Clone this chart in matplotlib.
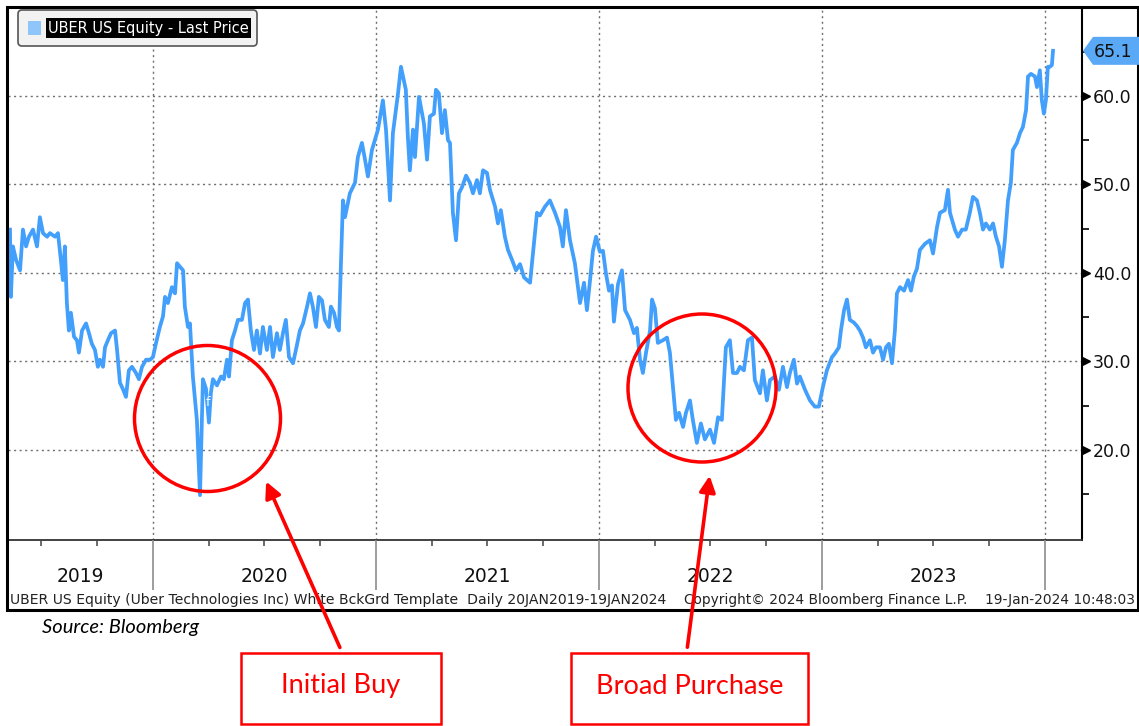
import numpy as np
import matplotlib
matplotlib.use("Agg")
import matplotlib.pyplot as plt
from matplotlib.patches import Circle, Rectangle, FancyBboxPatch, Polygon
from matplotlib.transforms import blended_transform_factory, offset_copy

# UBER US Equity - last price (time as decimal year)
t19 = [2019.359, 2019.363, 2019.372, 2019.386, 2019.404, 2019.417, 2019.431, 2019.444, 2019.462, 2019.480,
       2019.493, 2019.507, 2019.525, 2019.538, 2019.561, 2019.574, 2019.587, 2019.596, 2019.605, 2019.614,
       2019.623, 2019.632, 2019.646, 2019.659, 2019.668, 2019.682, 2019.700, 2019.713, 2019.726, 2019.740,
       2019.753, 2019.762, 2019.776, 2019.785, 2019.798, 2019.812, 2019.830, 2019.839, 2019.852, 2019.865,
       2019.879, 2019.892, 2019.906, 2019.924, 2019.937, 2019.951, 2019.969, 2019.987]
p19 = [44.9, 37.3, 43.0, 41.5, 40.3, 44.9, 43.0, 44.1, 44.9, 43.0,
       46.3, 44.5, 44.1, 44.5, 44.1, 44.5, 41.5, 39.2, 43.0, 36.6,
       33.5, 35.5, 32.8, 32.4, 31.0, 33.5, 34.3, 33.2, 32.0, 31.3,
       29.4, 30.2, 29.4, 31.6, 32.4, 33.2, 33.5, 31.3, 27.6, 26.9,
       26.0, 29.0, 29.4, 28.7, 28.0, 29.4, 30.2, 30.2]

t20 = [2020.000, 2020.013, 2020.031, 2020.045, 2020.054, 2020.067, 2020.085, 2020.099, 2020.108, 2020.121,
       2020.135, 2020.143, 2020.157, 2020.166, 2020.179, 2020.197, 2020.211, 2020.224, 2020.238, 2020.251,
       2020.260, 2020.269, 2020.287, 2020.305, 2020.318, 2020.332, 2020.341, 2020.354, 2020.368, 2020.381,
       2020.399, 2020.413, 2020.426, 2020.439, 2020.453, 2020.466, 2020.480, 2020.493, 2020.511, 2020.525,
       2020.538, 2020.556, 2020.569, 2020.583, 2020.596, 2020.610, 2020.628, 2020.641, 2020.659, 2020.673,
       2020.691, 2020.704, 2020.717, 2020.731, 2020.744, 2020.758, 2020.771, 2020.789, 2020.798, 2020.812,
       2020.825, 2020.834, 2020.843, 2020.852, 2020.861, 2020.883, 2020.906, 2020.919, 2020.937, 2020.951,
       2020.964, 2020.982]
p20 = [30.5, 32.0, 33.9, 35.1, 37.3, 36.6, 38.4, 37.7, 41.1, 40.7,
       40.3, 36.2, 33.9, 34.3, 28.3, 23.4, 14.9, 28.0, 26.9, 23.1,
       26.5, 28.0, 27.3, 28.3, 28.0, 30.2, 28.3, 32.4, 33.5, 34.7,
       34.7, 36.6, 37.0, 33.5, 31.3, 33.5, 30.9, 33.9, 31.3, 33.9,
       30.5, 33.2, 31.3, 33.2, 34.7, 30.5, 29.8, 31.3, 33.5, 34.3,
       36.2, 37.7, 36.2, 33.9, 37.3, 36.9, 34.7, 33.9, 36.2, 35.5,
       33.9, 33.5, 41.1, 48.2, 46.3, 49.0, 50.2, 53.1, 54.7, 52.8,
       50.9, 53.9]

t21 = [2021.009, 2021.031, 2021.045, 2021.063, 2021.076, 2021.099, 2021.112, 2021.134, 2021.143, 2021.152,
       2021.166, 2021.175, 2021.193, 2021.215, 2021.229, 2021.242, 2021.260, 2021.269, 2021.282, 2021.296,
       2021.309, 2021.323, 2021.332, 2021.345, 2021.359, 2021.372, 2021.386, 2021.404, 2021.421, 2021.435,
       2021.453, 2021.466, 2021.480, 2021.498, 2021.511, 2021.534, 2021.547, 2021.560, 2021.578, 2021.592,
       2021.610, 2021.628, 2021.646, 2021.664, 2021.691, 2021.704, 2021.722, 2021.735, 2021.758, 2021.780,
       2021.803, 2021.825, 2021.838, 2021.852, 2021.870, 2021.892, 2021.915, 2021.933, 2021.946, 2021.960,
       2021.973, 2021.987]
p21 = [56.2, 59.5, 56.2, 48.2, 55.8, 60.3, 63.3, 60.7, 55.4, 51.6,
       56.2, 53.1, 59.9, 56.9, 52.8, 57.7, 58.0, 60.7, 60.3, 55.8,
       58.4, 55.0, 54.7, 46.8, 43.7, 49.0, 49.7, 51.0, 50.2, 49.0,
       50.5, 49.0, 51.6, 51.3, 49.4, 47.5, 45.6, 47.1, 44.1, 42.6,
       41.5, 40.3, 41.0, 39.5, 38.9, 42.2, 46.8, 46.5, 47.5, 48.2,
       46.8, 45.2, 43.0, 47.1, 43.7, 41.1, 36.6, 38.9, 35.8, 39.2,
       42.5, 44.1]

t22 = [2022.004, 2022.018, 2022.031, 2022.045, 2022.058, 2022.067, 2022.085, 2022.103, 2022.117, 2022.139,
       2022.157, 2022.170, 2022.184, 2022.197, 2022.211, 2022.229, 2022.238, 2022.251, 2022.264, 2022.287,
       2022.305, 2022.318, 2022.332, 2022.345, 2022.359, 2022.377, 2022.390, 2022.408, 2022.421, 2022.439,
       2022.457, 2022.475, 2022.498, 2022.516, 2022.534, 2022.551, 2022.569, 2022.587, 2022.601, 2022.619,
       2022.632, 2022.650, 2022.668, 2022.686, 2022.699, 2022.722, 2022.735, 2022.753, 2022.767, 2022.789,
       2022.807, 2022.825, 2022.843, 2022.856, 2022.874, 2022.888, 2022.901, 2022.924, 2022.946, 2022.968,
       2022.986]
p22 = [42.4, 42.5, 40.0, 38.0, 38.6, 34.5, 38.7, 40.3, 35.8, 34.7,
       33.2, 33.8, 30.2, 28.7, 31.0, 33.5, 37.0, 36.0, 32.1, 32.4,
       32.7, 31.0, 27.1, 23.4, 24.2, 22.6, 24.2, 25.6, 23.4, 20.8,
       23.0, 21.2, 22.3, 20.8, 23.7, 23.4, 31.6, 32.4, 28.7, 28.7,
       29.4, 29.0, 32.4, 32.7, 27.9, 26.4, 29.0, 25.6, 27.9, 28.3,
       26.8, 29.4, 27.1, 28.7, 30.2, 27.5, 28.3, 26.8, 25.6, 24.9,
       24.9]

t23 = [2023.004, 2023.022, 2023.045, 2023.058, 2023.076, 2023.085, 2023.099, 2023.112, 2023.125, 2023.143,
       2023.157, 2023.170, 2023.184, 2023.197, 2023.215, 2023.229, 2023.242, 2023.260, 2023.274, 2023.287,
       2023.300, 2023.314, 2023.327, 2023.336, 2023.350, 2023.368, 2023.386, 2023.399, 2023.412, 2023.426,
       2023.439, 2023.462, 2023.484, 2023.498, 2023.516, 2023.529, 2023.551, 2023.565, 2023.574, 2023.596,
       2023.610, 2023.628, 2023.645, 2023.663, 2023.677, 2023.695, 2023.708, 2023.722, 2023.735, 2023.753,
       2023.767, 2023.780, 2023.794, 2023.807, 2023.820, 2023.834, 2023.847, 2023.856, 2023.874, 2023.888,
       2023.901, 2023.915, 2023.924, 2023.937, 2023.955, 2023.964, 2023.977, 2023.986, 2023.995]
p23 = [27.1, 29.0, 30.5, 30.9, 31.6, 33.5, 35.8, 37.0, 34.7, 34.4,
       34.0, 33.5, 32.7, 31.6, 32.4, 31.0, 31.6, 31.6, 30.2, 31.6,
       32.0, 29.8, 33.5, 37.7, 38.4, 38.0, 39.2, 38.0, 39.6, 40.5,
       42.6, 43.3, 43.7, 42.2, 45.2, 46.8, 47.1, 49.4, 46.8, 44.9,
       44.1, 44.9, 44.9, 46.8, 48.6, 48.2, 46.8, 44.9, 45.6, 44.9,
       45.6, 44.1, 43.0, 40.7, 43.7, 48.2, 50.2, 53.9, 54.7, 55.8,
       56.5, 58.4, 62.2, 62.5, 62.2, 61.0, 62.9, 59.5, 58.0]

t24 = [2024.004, 2024.013, 2024.022, 2024.031, 2024.036]
p24 = [59.5, 63.3, 63.3, 63.5, 65.1]

year_edges = [2020, 2021, 2022, 2023, 2024]
year_labels = ["2019", "2020", "2021", "2022", "2023"]
price_ticks = [20, 30, 40, 50, 60]
price_minor = [15, 25, 35, 45, 55, 65]

legend_label = "UBER US Equity - Last Price"
footer_left = "UBER US Equity (Uber Technologies Inc) White BckGrd Template  Daily 20JAN2019-19JAN2024"
footer_mid = "Copyright\u00a9 2024 Bloomberg Finance L.P."
footer_right = "19-Jan-2024 10:48:03"
source_note = "Source: Bloomberg"
callouts = ["Initial Buy", "Broad Purchase"]

BLUE = "#429ffb"
RED = "#ff0000"
W, H = 1139, 726
X0, X1 = 2019.35, 2024.166


def rect(x0, y0, x1, y1):
    # pixel box (origin top-left) -> figure fraction
    return [x0 / W, 1 - y1 / H, (x1 - x0) / W, (y1 - y0) / H]


fig = plt.figure(figsize=(W / 100, H / 100), dpi=100)
fig.patch.set_facecolor("white")

# main price panel
ax = fig.add_axes(rect(8, 8, 1082, 540))
t = np.concatenate([t19, t20, t21, t22, t23, t24])
p = np.concatenate([p19, p20, p21, p22, p23, p24])
ax.plot(t, p, color=BLUE, lw=2.7, solid_joinstyle="round", zorder=3)
ax.set_xlim(X0, X1)
ax.set_ylim(9.83, 69.94)
ax.set_xticks(year_edges)
ax.tick_params(axis="x", length=0, labelbottom=False)
ax.yaxis.tick_right()
ax.set_yticks(price_ticks)
ax.set_yticklabels([f"{v:.1f}" for v in price_ticks])
ax.set_yticks(price_minor, minor=True)
ax.tick_params(axis="y", which="major", length=0, pad=8, labelsize=12.5, labelcolor="#111111")
ax.tick_params(axis="y", which="minor", length=5, width=1.2, direction="out")
ax.grid(True, which="major", ls=(0, (1.5, 2.5)), color="#6f6f6f", lw=1)
for s in ["left", "top"]:
    ax.spines[s].set_visible(False)
ax.spines["right"].set_linewidth(1.5)
ax.spines["bottom"].set_linestyle((0, (2, 1)))
ax.spines["bottom"].set_color("#333333")
ax.spines["bottom"].set_linewidth(1.3)

# little triangles at the major price ticks
tri = offset_copy(blended_transform_factory(ax.transAxes, ax.transData), fig=fig, x=4, y=0, units="dots")
ax.plot([1.0] * len(price_ticks), price_ticks, ls="none", marker=">", ms=6, color="black",
        transform=tri, clip_on=False)

# date band under the panel
bx = fig.add_axes(rect(8, 540, 1082, 590))
bx.set_xlim(X0, X1)
bx.set_ylim(0, 1)
bx.axis("off")
bx.vlines(year_edges, 0, 1, color="#8c8c8c", lw=1.2)
quarters = [y + q for y in range(2019, 2025) for q in (0.25, 0.5, 0.75) if X0 < y + q < X1]
bx.vlines(quarters, 0.88, 1.0, color="#444444", lw=1.1)
mids = [(X0 + year_edges[0]) / 2] + [y + 0.5 for y in year_edges[:-1]]
for m, lab in zip(mids, year_labels):
    bx.text(m, 0.26, lab, ha="center", va="center", fontsize=13.5, color="#111111")

# overlay in pixel space for frame, legend, tag and call-outs
ov = fig.add_axes([0, 0, 1, 1])
ov.set_xlim(0, W)
ov.set_ylim(H, 0)
ov.axis("off")
ov.set_zorder(5)

ov.add_patch(Rectangle((7, 7), 1131, 603, fill=False, ec="black", lw=2.2))
ov.text(10, 600, footer_left, fontsize=10.1, va="center", ha="left", color="#222222")
ov.text(684, 600, footer_mid, fontsize=9.9, va="center", ha="left", color="#222222")
ov.text(1135, 600, footer_right, fontsize=9.9, va="center", ha="right", color="#222222")
ov.text(42, 628, source_note, fontsize=14.5, style="italic", family="Lato", va="center", color="black")

# legend
ov.add_patch(FancyBboxPatch((18, 10), 239, 36, boxstyle="round,pad=0,rounding_size=4",
                            fc="#f2f2f2", ec="#555555", lw=1.2))
ov.add_patch(Rectangle((28, 21), 13, 14, fc="#8ec5fa", ec="none"))
ov.text(48, 28, legend_label, color="white", fontsize=10.5, va="center", ha="left",
        bbox=dict(fc="black", ec="none", pad=1.5))

# last price tag
xr, yl = ax.transData.transform((t[-1], p[-1]))
xr = ax.bbox.x1
yl = H - yl
ov.add_patch(Polygon([(xr + 1, yl), (xr + 11, yl - 14), (W, yl - 14), (W, yl + 14), (xr + 11, yl + 14)],
                     closed=True, fc="#5aa9f6", ec="none"))
ov.text(xr + 12, yl + 1, f"{p[-1]:.1f}", fontsize=12.5, va="center", ha="left", color="#111111")

# event marker
ov.text(208, 403, "f", color="white", fontsize=9, ha="center", va="center")

# call-outs
ov.add_patch(Circle((207.5, 418.5), 73, fill=False, ec=RED, lw=2.5))
ov.add_patch(Circle((702, 388), 74, fill=False, ec=RED, lw=2.5))
ov.annotate("", xy=(265, 479), xytext=(341, 650),
            arrowprops=dict(arrowstyle="-|>", color=RED, lw=2.6, mutation_scale=24))
ov.annotate("", xy=(710, 473), xytext=(687, 650),
            arrowprops=dict(arrowstyle="-|>", color=RED, lw=2.6, mutation_scale=24))
ov.add_patch(Rectangle((241, 653), 200, 71, fill=False, ec=RED, lw=1.8))
ov.add_patch(Rectangle((571, 653), 237, 71, fill=False, ec=RED, lw=1.8))
ov.text(341, 686, callouts[0], color=RED, fontsize=19.5, family="Lato", ha="center", va="center")
ov.text(689.5, 686, callouts[1], color=RED, fontsize=19.5, family="Lato", ha="center", va="center")

fig.savefig("out.png", dpi=100)
